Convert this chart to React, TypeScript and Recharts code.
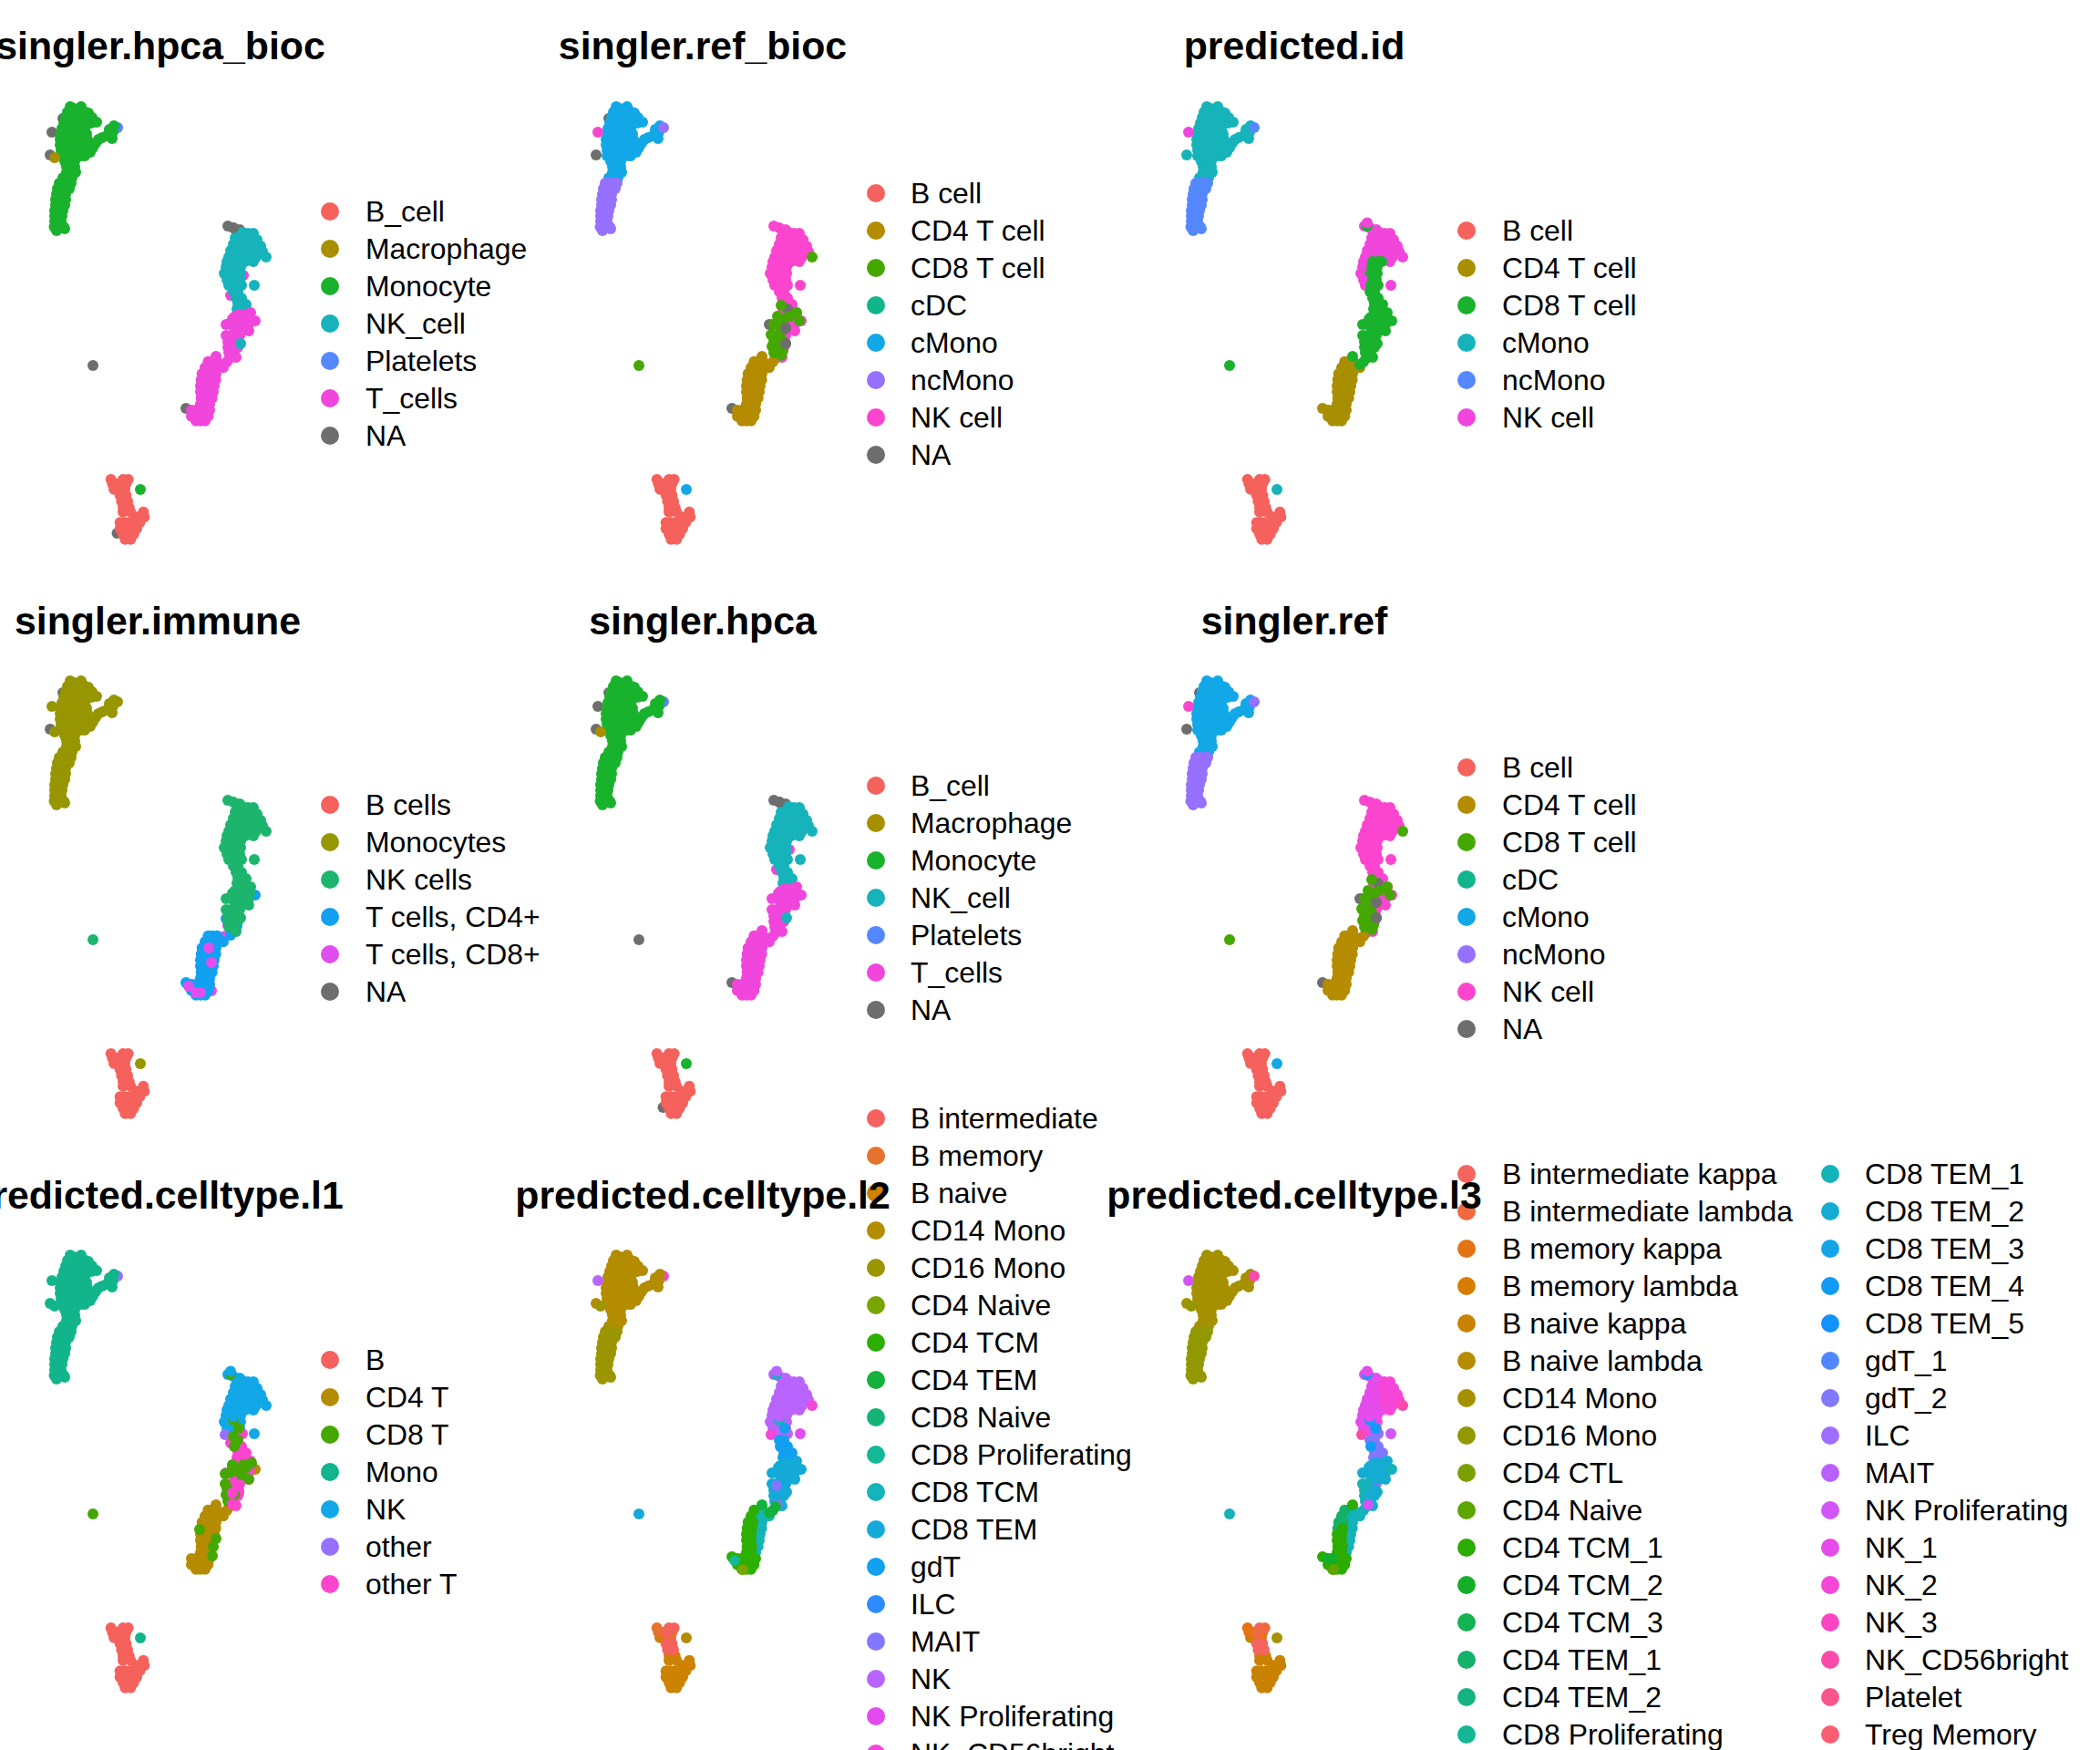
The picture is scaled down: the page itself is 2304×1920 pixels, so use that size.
import React from "react";
import { ScatterChart, Scatter, XAxis, YAxis, Legend } from "recharts";

type P = [number, number];

// ---- UMAP coordinates, cluster by cluster ----
const monoUpper: P[] = [[-2.3,28.3],[-1.9,28.1],[-1.1,28.3],[-2.6,27.7],[-2.1,27.7],[-1.6,27.7],[-1.1,27.7],[-0.6,27.7],[-0.3,27.6],[-2.8,27.1],[-2.3,27.1],[-1.8,27.1],[-1.3,27.1],[-0.8,27.1],[-0.3,27.1],[0.1,27.1],[-3,26.5],[-2.5,26.5],[-2,26.5],[-1.5,26.5],[-1,26.5],[-0.5,26.5],[0,26.5],[0.6,26.6],[-3.2,25.9],[-2.7,25.9],[-2.2,25.9],[-1.7,25.9],[-1.2,25.9],[-0.7,25.9],[-3.3,25.3],[-2.8,25.3],[-2.3,25.3],[-1.8,25.3],[-1.3,25.3],[-0.8,25.3],[-0.5,25.3],[-3.4,24.7],[-2.8,24.7],[-2.3,24.7],[-1.8,24.7],[-1.3,24.7],[-0.8,24.7],[-0.4,24.7],[-3.4,24.1],[-2.7,24.1],[-2.2,24.1],[-1.7,24.1],[-1.2,24.1],[-0.6,24.1],[-3.3,23.5],[-2.6,23.5],[-2.1,23.5],[-1.6,23.5],[-1.1,23.5],[-3.3,22.9],[-2.5,22.9],[-2,22.9],[-1.5,22.9],[-0.7,22.9],[-1.1,22.9],[-2.9,22.3],[-2.2,22.3],[-1.8,22.3],[-2.7,21.7],[-2.2,21.7],[-1.8,21.7],[-2.7,21.1],[-2.2,21.1],[-1.7,21.1],[-3.1,20.5],[-2.6,20.5],[-2.1,20.5],[-0.1,23.3],[0.2,23.8],[0.5,24.3],[0.8,24.7],[1.2,24.9],[1.7,25.1],[2.3,24.8],[2,25.4],[2,25.8],[2.5,26.2],[2.4,25.5]];
const monoLower: P[] = [[-3.5,19.9],[-3,19.9],[-2.5,19.9],[-2.2,19.9],[-3.7,19.3],[-3.2,19.3],[-2.7,19.3],[-2.4,19.3],[-3.8,18.7],[-3.3,18.7],[-2.8,18.7],[-3.9,18.1],[-3.4,18.1],[-2.8,18.1],[-3.9,17.5],[-3.4,17.5],[-2.9,17.5],[-4,16.9],[-3.5,16.9],[-3.1,16.9],[-4,16.3],[-3.6,16.3],[-3.2,16.3],[-4,15.7],[-3.6,15.7],[-3.3,15.7],[-4.05,15.1],[-3.5,15.1],[-3,15.1],[-2.9,14.9],[-3.8,14.7]];
const farOutlier: P[] = [[0.2,-0.1]];
const farLeftA: P[] = [[-4.3,25.5]];
const farLeftB: P[] = [[-4.5,23]];
const farLeftC: P[] = [[-4,22.7]];
const innerGray: P[] = [[-3.1,27]];
const armTip: P[] = [[2.9,26]];
const nkTopLeft: P[] = [[15,15.2],[15.6,15],[16.3,14.8]];
const nkTopA: P[] = [[16,14.5],[16.6,14.5],[15.8,13.9],[16.4,13.9],[15.6,13.2],[16.2,13.2],[16.8,13.3],[15.3,12.5],[15.9,12.5],[16.5,12.6],[15.1,11.8],[15.7,11.9],[16.3,11.9],[16.9,12]];
const nkTopB: P[] = [[17.2,14.4],[17.8,14.4],[17,13.8],[17.6,13.8],[18.2,13.7],[17.4,13.2],[18,13.1],[18.6,13],[17.1,12.5],[17.7,12.5],[18.3,12.4],[18.8,12.4],[17.5,11.7],[18.1,11.8],[17.8,11.3]];
const nkTip: P[] = [[19.2,11.8]];
const nkBodyL: P[] = [[14.9,11.3],[15.4,11.3],[14.8,10.7],[15.3,10.7],[14.6,10],[15.2,10],[14.9,9.3],[15.4,9.3],[15.1,8.7]];
const nkBodyR: P[] = [[15.9,11.3],[16.5,11.3],[16.9,11.3],[15.8,10.7],[16.4,10.7],[15.8,10],[16.4,10],[15.9,9.3],[16.3,9.3],[15.7,8.7],[16.5,8.7]];
const nkIso: P[] = [[17.9,8.7]];
const nkMid: P[] = [[15.6,8],[16.1,8],[15.9,7.3],[16.5,7.3],[16.1,6.7],[16.6,6.7],[17,6.6],[16,6.1],[16.5,6],[16.9,6]];
const tUpRight: P[] = [[18,4.8]];
const tUp: P[] = [[17.5,5.7],[16.7,5.3],[15.7,5.2],[16.2,5.5],[17,5.5],[15.5,5],[16.2,4.9],[16.8,4.8],[17.4,5],[14.8,4.4],[15.3,4.4],[15.8,4.4],[16.3,4.4],[16.8,4.4],[17.3,4.4],[17.3,3.7],[15.9,3.8],[16.4,3.8],[16.9,3.8]];
const tMidOuter: P[] = [[14.8,3.2],[15.3,3.2],[15,2.5],[15,1.9],[15.1,1.3]];
const tMidInner: P[] = [[15.8,3.2],[16.3,3.2],[15.6,2.5],[16.2,2.5],[15.6,1.9],[16.1,1.9],[15.7,1.2],[15.9,0.8]];
const tMidDot: P[] = [[16.4,2.3]];
const tBridge: P[] = [[13.7,0.9],[14.5,0],[15.2,0.7],[14.9,0.3]];
const tLowLeft: P[] = [[12.83,0.33],[12.5,-0.33],[12.17,-1],[12.7,-1],[12.07,-1.67],[12.6,-1.67],[12,-2.33],[12.5,-2.33],[12,-3],[12.5,-3],[12.07,-3.67],[12.6,-3.67],[12,-4.33],[12.5,-4.33]];
const tLowRight: P[] = [[13.3,0.33],[13.83,0.33],[13,-0.33],[13.5,-0.33],[14,-0.33],[14.5,-0.33],[13.2,-1],[13.7,-1],[13.1,-1.67],[13.67,-1.67],[13,-2.33],[13.5,-2.33],[13,-3],[13.4,-3],[13.27,-3.67],[13,-4.33]];
const tFoot: P[] = [[11,-5],[11.5,-5],[12,-5],[12.5,-5],[13,-5],[11,-5.67],[11.5,-5.67],[12,-5.67],[12.4,-5.67],[12.83,-5.67],[11.5,-6.17],[12,-6.17],[12.5,-6.17]];
const tipLeft: P[] = [[10.4,-4.8]];
const bTopLeft: P[] = [[2.17,-12.6],[2.33,-13.07],[2.8,-13.07],[2.5,-13.67],[2.95,-13.67]];
const bTopRight: P[] = [[3.5,-12.6],[4.07,-12.6],[3.3,-13.07],[3.83,-13.07],[3.4,-13.67],[3.7,-13.67]];
const bNeck: P[] = [[3.17,-14.33],[3.83,-14.33],[3.33,-15],[4,-15],[3.7,-14.7]];
const bNeckLow: P[] = [[3.5,-15.67],[4.17,-15.67],[3.5,-16.17],[4.33,-16.17]];
const bLow: P[] = [[5.73,-16.17],[5,-16.73],[5.4,-16.73],[5.83,-16.73],[3.17,-17.33],[3.7,-17.33],[4.2,-17.33],[4.8,-17.33],[5.33,-17.33],[3.17,-18],[3.7,-18],[4.2,-18],[4.6,-18],[5,-18],[3.5,-18.6],[4.1,-18.6],[4.67,-18.6],[3.73,-19.17],[4.33,-19.17]];
const bIso: P[] = [[5.4,-13.7]];
const bGray: P[] = [[2.85,-18.5]];
const nkStray: P[] = [[16.7,9.8],[15.3,7.6]];
const cd8Dots: P[] = [[15.8,6.5],[17.5,5.7],[16.7,5.3],[15.4,5.3],[17.8,4.8],[15,4.4],[15.8,4.2],[14.7,3.3],[15.7,3.3],[15.3,2.8],[14.8,2],[15.8,2],[15,1.3],[15.8,1],[15.2,3],[15.5,2.5],[15.2,1.7],[15.5,1.4],[16,1.5],[15.6,2.9],[15.9,2.7],[16.1,5]];
const grayDots: P[] = [[16.5,6.1],[14.5,4.4],[16.3,4],[16.3,2.3],[15.7,3.5]];
const l1Green: P[] = [[16.1,8],[15.7,7.3],[15.5,5.3],[16.7,5.3],[17.6,5.5],[14.7,4.3],[16.5,4.2],[17.3,3.7],[14.7,3.2],[14.8,2],[15.7,2],[15,1.3],[16.2,9.3],[15.6,8.4],[15.2,4.4],[16.1,4.6],[17,5],[14.9,2.7],[15.2,1.8],[13.3,-4.7],[13.4,-3.7],[13.7,-2.8],[11.9,-1.8]];
const l1Pink: P[] = [[16.6,8.7],[15.3,7.7],[16.1,7.2],[16.8,6.5],[15.8,3.3],[15.5,2.2],[16.2,2.2],[15.5,1]];
const crescents: P[] = [[15.3,15.2],[15.6,10.2]];
const crescentCaps: P[] = [[15.3,15.55],[15.6,10.6]];
const edgeDot: P[] = [[14.7,8.6]];
const magentaRear: P[] = [[15,1.5],[14.7,0.3],[13,-3],[13.2,-5.7]];
const magentaFront: P[] = [[10.7,-5.2],[11.5,-5.9],[12,-5.9]];
const magentaInner: P[] = [[12.9,-1],[13.2,-2.6]];
const blueRear: P[] = [[14.8,2.2],[16,1.4],[15.3,0.4]];
const footA: P[] = [[10.7,-5.2]];
const footB: P[] = [[11.6,-6.2]];
const maitDots: P[] = [[15.4,0.9],[15.3,3]];
const blueNk: P[] = [[16.2,9.3],[15.7,7.3]];
const tealLeft: P[] = [[15.8,12.5],[15.2,12]];

// ---- categories ----
const catsHpcaBioc = ["B_cell","Macrophage","Monocyte","NK_cell","Platelets","T_cells","NA"];
const catsRefBioc = ["B cell","CD4 T cell","CD8 T cell","cDC","cMono","ncMono","NK cell","NA"];
const catsPredId = ["B cell","CD4 T cell","CD8 T cell","cMono","ncMono","NK cell"];
const catsImmune = ["B cells","Monocytes","NK cells","T cells, CD4+","T cells, CD8+","NA"];
const catsL1 = ["B","CD4 T","CD8 T","Mono","NK","other","other T"];
const catsL2 = ["B intermediate","B memory","B naive","CD14 Mono","CD16 Mono","CD4 Naive","CD4 TCM","CD4 TEM","CD8 Naive","CD8 Proliferating","CD8 TCM","CD8 TEM","gdT","ILC","MAIT","NK","NK Proliferating","NK_CD56bright"];
const catsL3 = ["B intermediate kappa","B intermediate lambda","B memory kappa","B memory lambda","B naive kappa","B naive lambda","CD14 Mono","CD16 Mono","CD4 CTL","CD4 Naive","CD4 TCM_1","CD4 TCM_2","CD4 TCM_3","CD4 TEM_1","CD4 TEM_2","CD8 Proliferating","CD8 TEM_1","CD8 TEM_2","CD8 TEM_3","CD8 TEM_4","CD8 TEM_5","gdT_1","gdT_2","ILC","MAIT","NK Proliferating","NK_1","NK_2","NK_3","NK_CD56bright","Platelet","Treg Memory"];

// ---- palettes ----
const pal6 = ["#F5615C","#A88F00","#19B22D","#16B3BA","#5587FF","#F046DC","#6E6E6E"];
const pal3 = ["#F5615C","#A88F00","#19B22D","#16B3BA","#5587FF","#F046DC"];
const pal7 = ["#F5615C","#B58B00","#45A800","#12B58B","#12A8E8","#9670FF","#FB45CF","#6E6E6E"];
const pal5 = ["#F5615C","#979600","#1DB56E","#12A0F0","#E04FEE","#6E6E6E"];
const palL2 = ["#F5615C","#E6732D","#CD8200","#B38C00","#9B9600","#78A500","#2DAF00","#14B23C","#14B478","#14B796","#14B4B9","#14AAD7","#12A0F0","#2D8CFF","#8278FF","#B964FF","#E14BF0","#F546D7"];
const palL3 = ["#F5645F","#F06941","#E47314","#D77D00","#C88200","#B78C00","#A59100","#919800","#7AA000","#5FA500","#2DAC00","#14AF28","#14B250","#14B269","#14B482","#14B696","#14B2B9","#14ACD2","#14A5E6","#129BF5","#1291FF","#5087FF","#8278FF","#A06EFF","#B95FFF","#D255FA","#E64BEB","#F546D7","#FA46C3","#FA4BAA","#FA558C","#F85F73"];

// ---- per panel draw order: [category index, clusters...] ----
type Layer = [number, ...P[][]];
const bCluster: P[][] = [bTopLeft, bTopRight, bNeck, bNeckLow, bLow];
const layersHpca: Layer[] = [
  [6, farOutlier, farLeftA, farLeftB, innerGray, nkTopLeft, bGray, tipLeft],
  [0, ...bCluster],
  [4, armTip],
  [2, monoUpper, monoLower, bIso],
  [1, farLeftC],
  [5, nkStray],
  [3, nkTopA, nkTopB, nkTip, nkBodyL, nkBodyR, nkIso, nkMid],
  [5, tUp, tUpRight, tMidOuter, tMidInner, tBridge, tLowLeft, tLowRight, tFoot],
  [3, tMidDot],
  [6, [nkTopLeft[1]]],
];
const layersRef: Layer[] = [
  [7, farLeftB, tipLeft, innerGray],
  [0, ...bCluster],
  [1, tBridge, tLowLeft, tLowRight, tFoot],
  [6, nkTopLeft, nkTopA, nkTopB, nkBodyL, nkBodyR, nkIso, nkMid, tUp, tUpRight, tMidInner],
  [7, grayDots],
  [2, cd8Dots, tMidOuter, nkTip, farOutlier],
  [7, [grayDots[2], grayDots[3]]],
  [4, monoUpper, bIso],
  [5, monoLower, armTip],
  [6, farLeftA],
];
const layersPredId: Layer[] = [
  [0, ...bCluster],
  [1, tLowLeft, tLowRight, tFoot, tipLeft],
  [5, nkTopLeft, nkTopA, nkTopB, nkTip, nkBodyL, nkIso],
  [2, crescents],
  [5, crescentCaps],
  [2, nkBodyR, nkMid, tUp, tUpRight, tMidOuter, tMidInner, tMidDot, tBridge, farOutlier],
  [3, monoUpper, bIso, farLeftB],
  [4, monoLower, armTip],
  [5, farLeftA],
];
const layersImmune: Layer[] = [
  [5, farLeftB, innerGray],
  [4, magentaRear],
  [3, blueRear, tLowLeft, tLowRight, tFoot, tipLeft, tUpRight],
  [4, magentaFront, magentaInner],
  [2, nkTopLeft, nkTopA, nkTopB, nkTip, nkBodyL, nkBodyR, nkIso, nkMid, tUp, tMidOuter, tMidInner, tMidDot, farOutlier],
  [1, monoUpper, monoLower, bIso, farLeftC, farLeftA, armTip],
  [0, ...bCluster],
];
const layersL1: Layer[] = [
  [0, ...bCluster],
  [1, tBridge, tLowLeft, tLowRight, tFoot, tUpRight],
  [4, nkTopLeft, nkTopA, nkTopB, nkTip, nkBodyL, nkBodyR, nkIso],
  [2, crescents],
  [4, crescentCaps],
  [5, armTip, edgeDot],
  [6, l1Pink, nkMid, tUp, tMidInner, tMidOuter],
  [2, l1Green, farOutlier],
  [6, [l1Pink[5], l1Pink[7]]],
  [3, monoUpper, monoLower, bIso, farLeftB, farLeftC, farLeftA],
];
const layersL2: Layer[] = [
  [15, nkTopLeft, nkTopA, nkTopB, nkBodyL, nkBodyR],
  [10, crescents],
  [15, crescentCaps],
  [17, nkTip, armTip, edgeDot],
  [16, nkIso],
  [12, nkMid, blueNk, tMidInner.slice(0, 2)],
  [11, tUp, tUpRight, tMidOuter, tMidInner.slice(2), tMidDot, farOutlier],
  [14, maitDots],
  [10, tLowRight],
  [6, tLowLeft, tFoot, tipLeft],
  [7, tBridge],
  [9, footA],
  [5, footB],
  [3, monoUpper, bIso, farLeftB],
  [4, monoLower, farLeftC],
  [15, farLeftA],
  [2, bLow, bNeckLow, bTopLeft.slice(3)],
  [1, bTopLeft.slice(0, 3), bTopRight.slice(3)],
  [0, bTopRight.slice(0, 3), bNeck],
];
const layersL3: Layer[] = [
  [26, nkTopLeft, nkTopA, nkBodyL, nkBodyR],
  [27, nkTopB],
  [19, crescents],
  [26, crescentCaps, tealLeft],
  [29, nkTip, edgeDot],
  [25, nkIso],
  [22, nkMid, nkBodyR.slice(-1), tMidInner.slice(0, 3)],
  [19, blueNk],
  [17, tUp],
  [16, tUpRight, tMidOuter, tMidDot, tBridge.slice(1), farOutlier],
  [17, tMidInner.slice(3)],
  [25, maitDots.slice(0, 1)],
  [16, tLowRight],
  [13, tLowLeft.slice(0, 5)],
  [10, tLowLeft.slice(5), tFoot, tipLeft, tBridge.slice(0, 1)],
  [11, tFoot.slice(0, 2)],
  [9, footB],
  [6, monoUpper, bIso, farLeftB],
  [7, monoLower, farLeftC],
  [25, farLeftA],
  [29, armTip],
  [4, bLow, bNeckLow, bTopLeft.slice(3)],
  [2, bTopLeft.slice(0, 3), bTopRight.slice(3)],
  [0, bNeck, bTopRight.slice(0, 1)],
  [1, bTopRight.slice(1, 3)],
];

// ---- panels ----
const titles = ["singler.hpca_bioc","singler.ref_bioc","predicted.id","singler.immune","singler.hpca","singler.ref","predicted.celltype.l1","predicted.celltype.l2","predicted.celltype.l3"];
const titleCentres = [176, 771, 1420, 173, 771, 1420, 171, 771, 1420];
const legendFirstY = [232, 211.5, 252.5, 253, 232, 211.5, 232, -33.5, 28];
const panelCats = [catsHpcaBioc, catsRefBioc, catsPredId, catsImmune, catsHpcaBioc, catsRefBioc, catsL1, catsL2, catsL3];
const panelPals = [pal6, pal7, pal3, pal5, pal6, pal7, pal7, palL2, palL3];
const panelLayers: Layer[][] = [layersHpca, layersRef, layersPredId, layersImmune, layersHpca, layersRef, layersL1, layersL2, layersL3];
const colLefts = [0, 599, 1247];
const rowTops = [0, 630, 1260];
const titleRowTops = [26, 657, 1287];
const legendTextLeft = [401, 400, 401];
const legendRowsPerColumn = 16;
const FONT = '"Liberation Sans", Arial, Helvetica, sans-serif';

const Dot = (props: any) => <circle cx={props.cx} cy={props.cy} r={6} fill={props.fill} />;

function PanelLegend({ cats, pal, firstY, textLeft }: { cats: string[]; pal: string[]; firstY: number; textLeft: number }) {
  return (
    <div style={{ position: "relative", width: 0, height: 0, fontFamily: FONT }}>
      {cats.map((c, i) => {
        const col = cats.length > 18 ? Math.floor(i / legendRowsPerColumn) : 0;
        const row = cats.length > 18 ? i % legendRowsPerColumn : i;
        const y = firstY + row * 41;
        const dx = col * 399;
        return (
          <React.Fragment key={c}>
            <div style={{ position: "absolute", left: 352 + dx, top: y - 10, width: 20, height: 20, borderRadius: 10, background: pal[i] }} />
            <div style={{ position: "absolute", left: textLeft + dx - (col ? 1 : 0), top: y - 20, height: 41, lineHeight: "41px", fontSize: 31.9, color: "#000", whiteSpace: "nowrap" }}>{c}</div>
          </React.Fragment>
        );
      })}
    </div>
  );
}

function Panel({ index }: { index: number }) {
  const cats = panelCats[index];
  const pal = panelPals[index];
  const firstY = legendFirstY[index];
  return (
    <div style={{ position: "absolute", left: colLefts[index % 3], top: rowTops[Math.floor(index / 3)] }}>
      <ScatterChart width={600} height={630} margin={{ top: 0, right: 0, bottom: 0, left: 0 }} style={{ overflow: "visible" }}>
        <XAxis type="number" dataKey="x" domain={[-10, 50]} hide />
        <YAxis type="number" dataKey="y" domain={[-23, 40]} hide />
        <Legend
          layout="vertical"
          align="center"
          verticalAlign="middle"
          wrapperStyle={{ position: "absolute", left: 0, top: 0, width: 0, height: 0 }}
          content={() => <PanelLegend cats={cats} pal={pal} firstY={firstY} textLeft={legendTextLeft[index % 3]} />}
        />
        {panelLayers[index].map(([cat, ...clusters], i) => (
          <Scatter
            key={i}
            name={cats[cat]}
            legendType="none"
            data={clusters.flat().map(([x, y]) => ({ x, y }))}
            fill={pal[cat]}
            shape={Dot}
            isAnimationActive={false}
          />
        ))}
      </ScatterChart>
    </div>
  );
}

export default function App() {
  return (
    <div style={{ position: "absolute", left: 0, top: 0, width: 2304, height: 1920, overflow: "hidden", background: "#fff" }}>
      {titles.map((_, i) => <Panel key={i} index={i} />)}
      {titles.map((t, i) => (
        <div
          key={t}
          style={{
            position: "absolute",
            left: titleCentres[i],
            top: titleRowTops[Math.floor(i / 3)],
            transform: "translateX(-50%)",
            fontFamily: FONT,
            fontWeight: 700,
            fontSize: 42.8,
            lineHeight: "48px",
            color: "#000",
            whiteSpace: "nowrap",
            zIndex: 5,
          }}
        >
          {t}
        </div>
      ))}
    </div>
  );
}
